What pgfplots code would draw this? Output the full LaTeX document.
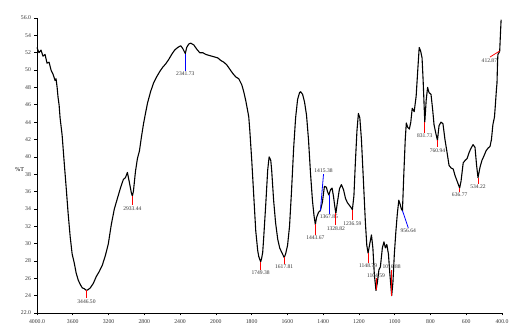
\documentclass[border=0pt]{standalone}
\usepackage{pgfplots}
\pgfplotsset{compat=1.18}
\usepackage{pgfplotstable}
\usepackage{fontspec}
\setmainfont{Liberation Serif}

% FTIR transmittance spectrum (wavenumber in cm^-1, %T)
\pgfplotstableread{
wn T
4000 52.6
3978 52.0
3955 52.3
3933 51.6
3910 51.8
3888 50.8
3865 50.9
3843 50.0
3820 49.5
3798 48.8
3787 49.0
3775 48.0
3764 46.8
3753 46.0
3742 44.5
3719 42.5
3697 39.5
3674 36.5
3652 33.5
3629 30.8
3607 28.8
3584 27.8
3562 26.6
3539 25.8
3517 25.3
3494 24.9
3472 24.8
3446.5 24.6
3427 24.7
3404 24.9
3371 25.4
3337 26.2
3303 26.8
3270 27.5
3236 28.6
3202 30.0
3169 32.2
3135 34.0
3101 35.2
3067 36.4
3034 37.4
3011 37.6
2989 38.2
2966 37.0
2944 35.8
2933.44 35.5
2922 36.0
2899 38.3
2877 39.8
2854 40.7
2832 42.3
2809 43.8
2787 45.0
2764 46.2
2730 47.5
2697 48.5
2663 49.2
2629 49.8
2596 50.3
2562 50.7
2528 51.2
2494 51.8
2461 52.3
2427 52.6
2393 52.8
2371 52.5
2341.73 51.9
2326 52.6
2303 53.0
2281 53.1
2247 52.9
2213 52.4
2180 52.0
2146 52.0
2112 51.8
2079 51.7
2045 51.6
2011 51.5
1989 51.4
1972 51.1
1955 50.9
1939 50.6
1922 50.1
1905 49.6
1888 49.2
1872 49.0
1855 48.3
1844 47.5
1833 46.5
1822 45.3
1816 44.6
1810 43.0
1799 39.5
1788 35.5
1777 31.5
1766 29.2
1760 28.5
1749.38 27.9
1744 28.3
1738 29.0
1733 30.5
1721 34.5
1710 38.5
1702 40.0
1693 39.6
1688 38.5
1677 35.0
1666 32.4
1654 30.5
1643 29.5
1632 29.0
1617.81 28.4
1610 28.8
1599 29.8
1588 32.0
1577 36.0
1565 41.0
1554 44.5
1543 46.6
1532 47.4
1526 47.5
1515 47.2
1504 46.3
1493 44.8
1482 42.0
1471 38.2
1460 35.0
1451 33.2
1443.67 32.2
1437 33.0
1426 33.6
1415.38 33.8
1404 34.8
1393 36.6
1382 36.5
1376 36.0
1367.85 35.6
1359 36.2
1350 36.4
1342 35.4
1333 34.0
1328.82 33.5
1320 34.8
1309 36.3
1298 36.8
1286 36.2
1275 35.2
1264 34.7
1253 34.4
1242 34.1
1236.59 33.9
1228 35.5
1220 39.3
1211 43.0
1203 45.0
1195 44.5
1186 42.0
1175 37.3
1164 32.5
1156 29.8
1148.79 28.9
1141 29.8
1130 31.0
1122 29.5
1114 26.5
1104.59 24.6
1097 25.5
1088 27.0
1080 27.3
1069 29.5
1060 30.2
1052 29.5
1044 29.9
1035 28.8
1027 26.5
1016.88 24.0
1010 25.5
1002 28.8
993 31.5
985 33.5
977 35.0
969 34.5
963 34.0
956.64 33.8
949 38.0
941 42.0
935 43.9
927 43.4
918 43.2
910 44.0
902 45.6
891 45.2
880 47.0
871 50.0
863 52.6
855 52.2
847 51.4
841 48.8
831.73 44.0
824 46.5
816 48.0
808 47.4
797 47.2
788 45.5
780 43.7
771 42.8
760.94 41.9
752 43.6
741 44.0
730 43.8
719 42.0
708 40.6
696 39.0
684 38.7
673 38.6
662 37.8
651 37.2
636.77 36.4
629 37.2
617 39.3
606 39.6
595 39.8
584 40.5
573 41.0
562 41.4
551 41.1
542 39.0
534.22 37.6
523 38.8
512 39.6
501 40.1
489 40.7
478 41.0
467 41.2
459 42.0
451 43.7
442 44.6
437 46.0
431 47.8
428 48.5
425 50.8
423 51.8
417 52.0
412.87 52.2
408 54.5
405 55.8
}\spectrum

\tikzset{lbl/.style={font=\fontsize{5.6}{6}\selectfont, text=black!80, inner sep=0.8bp}}

\begin{document}
\begin{tikzpicture}
\useasboundingbox (0,0) rectangle (510bp,324bp);
\begin{axis}[
  at={(37bp,11bp)}, anchor=south west,
  scale only axis, width=465bp, height=295bp,
  % wavenumber axis: 4000-2000 compressed to half the scale of 2000-400
  x coord trafo/.code={\pgfmathparse{#1>=2000 ? (4000-#1)/2 : 3000-#1}},
  xmin=4000, xmax=400, ymin=22, ymax=56,
  axis x line*=bottom, axis y line*=left,
  axis line style={line width=0.8bp},
  tick align=outside, major tick length=2.5bp,
  tick style={black, line width=0.6bp},
  xtick={4000,3600,3200,2800,2400,2000,1800,1600,1400,1200,1000,800,600,400},
  xticklabels={4000.0,3600,3200,2800,2400,2000,1800,1600,1400,1200,1000,800,600,400.0},
  ytick={22,24,...,56},
  yticklabels={22.0,24,26,28,30,32,34,36,38,40,42,44,46,48,50,52,54,56.0},
  ticklabel style={font=\fontsize{5.8}{6}\selectfont, text=black!80},
  xticklabel style={yshift=-0.5bp},
  ylabel={\%T},
  ylabel style={rotate=-90, font=\fontsize{6}{7}\selectfont, at={(axis description cs:-0.037,0.485)}, anchor=center},
  clip=false,
]
\addplot[black, line width=1.1bp, line join=round] table[x=wn, y=T] {\spectrum};

% peak annotations
\draw[red, line width=0.8bp] (3446.50,24.6) -- (3446.50,23.7) node[lbl, below] {3446.50};
\draw[red, line width=0.8bp] (2933.44,35.5) -- (2933.44,34.4) node[lbl, below] {2933.44};
\draw[blue, line width=0.8bp] (2341.73,51.9) -- (2341.73,49.9) node[lbl, below] {2341.73};
\draw[red, line width=0.8bp] (1749.38,27.9) -- (1749.38,27.0) node[lbl, below] {1749.38};
\draw[red, line width=0.8bp] (1617.81,28.4) -- (1617.81,27.7) node[lbl, below] {1617.81};
\draw[red, line width=0.8bp] (1443.67,32.2) -- (1443.67,31.0) node[lbl, below] {1443.67};
\draw[blue, line width=0.8bp] (1415.38,33.8) -- (1398,38.0) node[lbl, above] {1415.38};
\draw[blue, line width=0.8bp] (1367.85,35.6) -- (1367.85,33.4) node[lbl, below] {1367.85};
\draw[red, line width=0.8bp] (1328.82,33.5) -- (1328.82,32.1) node[lbl, below] {1328.82};
\draw[red, line width=0.8bp] (1236.59,33.9) -- (1236.59,32.7) node[lbl, below] {1236.59};
\draw[red, line width=0.8bp] (1148.79,28.9) -- (1148.79,27.8) node[lbl, below] {1148.79};
\draw[red, line width=0.8bp] (1104.59,24.6) -- (1104.59,26.0) node[lbl, above] {1104.59};
\draw[red, line width=0.8bp] (1016.88,24.0) -- (1016.88,27.0) node[lbl, above] {1016.88};
\draw[blue, line width=0.8bp] (956.64,33.8) -- (924,31.8) node[lbl, below] {956.64};
\draw[red, line width=0.8bp] (831.73,44.0) -- (831.73,42.8) node[lbl, below] {831.73};
\draw[red, line width=0.8bp] (760.94,41.9) -- (760.94,41.1) node[lbl, below] {760.94};
\draw[red, line width=0.8bp] (636.77,36.4) -- (636.77,36.0) node[lbl, below] {636.77};
\draw[red, line width=0.8bp] (534.22,37.6) -- (534.22,36.9) node[lbl, below] {534.22};
\draw[red, line width=0.8bp] (412.87,52.2) -- (467,51.5);
\node[lbl, anchor=north east] at (422,51.4) {412.87};
\end{axis}
\end{tikzpicture}
\end{document}
